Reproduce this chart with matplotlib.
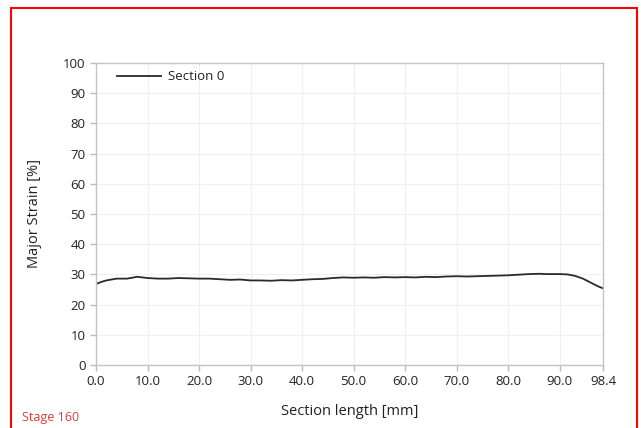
import matplotlib
matplotlib.use('Agg')
import matplotlib.pyplot as plt
from matplotlib.patches import Rectangle

plt.rcParams['font.family'] = ['Open Sans', 'DejaVu Sans']

# 截面位置 [mm] 与主应变 [%]
section_mm = [0.0, 1.0, 2.0, 4.0, 6.0, 8.0, 10.0, 12.0, 14.0, 16.0, 18.0, 20.0,
              22.0, 24.0, 26.0, 28.0, 30.0, 32.0, 34.0, 36.0, 38.0, 40.0, 42.0,
              44.0, 46.0, 48.0, 50.0, 52.0, 54.0, 56.0, 58.0, 60.0, 62.0, 64.0,
              66.0, 68.0, 70.0, 72.0, 74.0, 76.0, 78.0, 80.0, 82.0, 84.0, 86.0,
              88.0, 90.0, 91.5, 93.0, 94.5, 96.0, 97.5, 98.4]
major_strain = [26.8, 27.5, 28.0, 28.6, 28.6, 29.2, 28.8, 28.6, 28.6, 28.8, 28.7, 28.6,
                28.6, 28.4, 28.2, 28.3, 28.0, 28.0, 27.9, 28.1, 28.0, 28.2, 28.4,
                28.5, 28.8, 29.0, 28.9, 29.0, 28.9, 29.1, 29.0, 29.1, 29.0, 29.2,
                29.1, 29.3, 29.4, 29.3, 29.4, 29.5, 29.6, 29.7, 29.9, 30.1, 30.2,
                30.1, 30.1, 30.0, 29.5, 28.6, 27.3, 26.0, 25.4]
series_name = 'Section 0'
x_ticks = [0.0, 10.0, 20.0, 30.0, 40.0, 50.0, 60.0, 70.0, 80.0, 90.0, 98.4]
y_ticks = [0, 10, 20, 30, 40, 50, 60, 70, 80, 90, 100]

fig = plt.figure(figsize=(6.41, 4.28), dpi=100)
ax = fig.add_axes([96 / 641, 1 - 365 / 428, (603 - 96) / 641, (365 - 63) / 428])

ax.plot(section_mm, major_strain, color='#2a2a2a', linewidth=1.3, label=series_name)

ax.set_xlim(0, 98.4)
ax.set_ylim(0, 100)
ax.set_xticks(x_ticks)
ax.set_xticklabels([f'{v:.1f}' for v in x_ticks])
ax.set_yticks(y_ticks)
ax.tick_params(colors='#bbbbbb', labelcolor='#222222', labelsize=9.5, length=4, width=1)
ax.grid(True, color='#f0f0f0', linewidth=0.8)
for s in ax.spines.values():
    s.set_color('#c4c4c4')
    s.set_linewidth(1)

ax.set_xlabel('Section length [mm]', fontsize=10.5, color='#222222', labelpad=11)
ax.set_ylabel('Major Strain [%]', fontsize=10.5, color='#222222', labelpad=15)

ax.legend(loc='upper left', bbox_to_anchor=(0.018, 1.015), frameon=False,
          fontsize=9.5, handlelength=3.3, handletextpad=0.55, labelcolor='#222222')

# 红色外框与阶段标注
fig.patches.append(Rectangle((11 / 641, -0.1), (637 - 11) / 641, 1.1 - 8 / 428,
                             transform=fig.transFigure, fill=False,
                             edgecolor='red', linewidth=1.5))
fig.text(22 / 641, 1 - 418 / 428, 'Stage 160', color='#e03c3c', fontsize=9,
         va='center', ha='left')

fig.savefig('out.png', dpi=100)
